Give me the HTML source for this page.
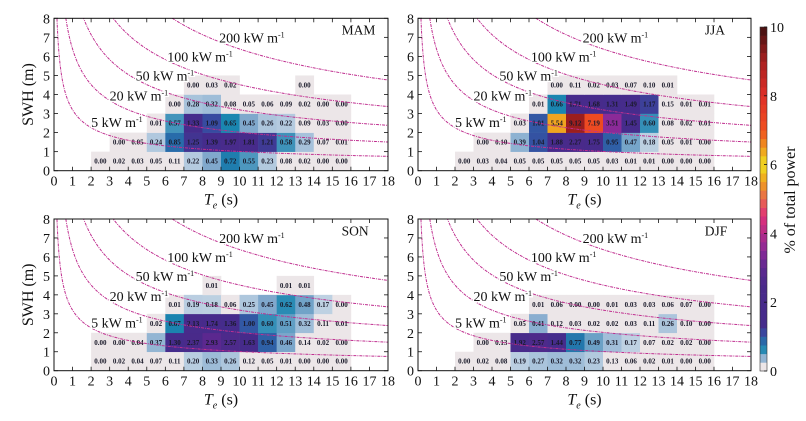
<!DOCTYPE html>
<html><head><meta charset="utf-8">
<style>
html,body{margin:0;padding:0;background:#fff;}
svg, svg text{font-family:"Liberation Serif","DejaVu Serif",serif;}
</style></head>
<body>
<svg id="chart" width="806" height="416" viewBox="0 0 806 416" xmlns="http://www.w3.org/2000/svg"></svg>
<script>
// ---- data ----
const seasons = ["MAM","JJA","SON","DJF"];
const rowStarts = {
  MAM:[2,3,5,6,7],
  JJA:[2,3,5,6,7],
  SON:[2,2,5,6,8],
  DJF:[2,3,5,6,6]
};
const mamRow0 = [0.00,0.02,0.03,0.05,0.11,0.22,0.45,0.72,0.55,0.23,0.08,0.02,0.00,0.00];
const mamRow1 = [0.00,0.05,0.24,0.85,1.25,1.39,1.97,1.81,1.21,0.58,0.29,0.07,0.01];
const mamRow2 = [0.01,0.57,1.33,1.09,0.65,0.45,0.26,0.22,0.09,0.03,0.00];
const mamRow3 = [0.00,0.28,0.32,0.08,0.05,0.06,0.09,0.02,0.00,0.00];
const mamRow4 = [0.00,0.03,0.02,null,null,null,0.00];
const jjaRow0 = [0.00,0.03,0.04,0.05,0.05,0.05,0.05,0.05,0.03,0.01,0.01,0.00,0.00,0.00];
const jjaRow1 = [0.00,0.10,0.39,1.04,1.88,2.27,1.75,0.95,0.47,0.18,0.05,0.01,0.00];
const jjaRow2 = [0.03,1.01,5.54,9.12,7.19,3.51,1.45,0.60,0.08,0.02,0.01];
const jjaRow3 = [0.01,0.66,1.71,1.68,1.31,1.49,1.17,0.15,0.01,0.01];
const jjaRow4 = [0.00,0.11,0.02,0.03,0.07,0.10,0.01];
const sonRow0 = [0.00,0.02,0.04,0.07,0.11,0.20,0.33,0.26,0.12,0.05,0.01,0.00,0.00,0.00];
const sonRow1 = [0.00,0.00,0.04,0.37,1.30,2.37,2.93,2.57,1.63,0.94,0.46,0.14,0.02,0.00];
const sonRow2 = [0.02,0.67,2.13,1.74,1.36,1.00,0.60,0.51,0.32,0.11,0.01];
const sonRow3 = [0.01,0.19,0.18,0.06,0.25,0.45,0.62,0.48,0.17,0.00];
const sonRow4 = [0.01,null,null,null,0.01,0.01];
const djfRow0 = [0.00,0.02,0.08,0.19,0.27,0.32,0.32,0.23,0.13,0.06,0.02,0.01,0.00,0.00];
const djfRow1 = [0.00,0.13,1.92,2.57,1.44,0.77,0.49,0.31,0.17,0.07,0.02,0.02,0.00];
const djfRow2 = [0.05,0.41,0.12,0.03,0.02,0.02,0.03,0.11,0.26,0.10,0.00];
const djfRow3 = [0.01,0.06,0.00,0.00,0.01,0.03,0.03,0.06,0.07,0.00];
const djfRow4 = [];
const gridValues = {
  MAM:[mamRow0,mamRow1,mamRow2,mamRow3,mamRow4],
  JJA:[jjaRow0,jjaRow1,jjaRow2,jjaRow3,jjaRow4],
  SON:[sonRow0,sonRow1,sonRow2,sonRow3,sonRow4],
  DJF:[djfRow0,djfRow1,djfRow2,djfRow3,djfRow4]
};
const powerLevels = [5,20,50,100,200];
const xTicks = [0,1,2,3,4,5,6,7,8,9,10,11,12,13,14,15,16,17,18];
const yTicks = [0,1,2,3,4,5,6,7,8];
const cbTicks = [0,2,4,6,8,10];

// ---- layout ----
const NS="http://www.w3.org/2000/svg";
const FF="'Liberation Serif', 'DejaVu Serif', serif";
const svg=document.getElementById('chart');
function mk(tag,attrs,parent){const e=document.createElementNS(NS,tag);for(const k in attrs)e.setAttribute(k,attrs[k]);if(tag==='text')e.style.fontFamily=FF;(parent||svg).appendChild(e);return e;}
function tsp(parent,txt,attrs){const e=document.createElementNS(NS,'tspan');for(const k in (attrs||{}))e.setAttribute(k,attrs[k]);e.textContent=txt;parent.appendChild(e);return e;}
const panels=[
 {x0:54,x1:388,yb:170.7,yt:18.3,left:true},
 {x0:418,x1:751,yb:170.7,yt:18.3,left:false},
 {x0:54,x1:388,yb:370.7,yt:219,left:true},
 {x0:418,x1:751,yb:370.7,yt:219,left:false}
];
const stops=[[0,'#ece6e8'],[0.15,'#ece6e8'],[0.17,'#bed1e2'],[0.3,'#a4c0da'],[0.45,'#80a8cc'],[0.65,'#1a86b0'],[0.9,'#2c66a8'],[1.1,'#384aa0'],[1.3,'#452c8c'],[2.5,'#4a2a8a'],[3.0,'#5e2890'],[3.5,'#8a2a98'],[4.5,'#e0307a'],[5.5,'#f0a020'],[6,'#f0e020'],[7,'#f05020'],[8,'#e03028'],[9,'#a82020'],[10,'#401010']];
function hex(c){return [1,3,5].map(i=>parseInt(c.substr(i,2),16));}
function cmap(v){
  if(v<=0)return stops[0][1];
  for(let i=1;i<stops.length;i++){
    if(v<=stops[i][0]){const a=stops[i-1],b=stops[i];const t=(v-a[0])/(b[0]-a[0]);const ca=hex(a[1]),cb=hex(b[1]);
      return 'rgb('+ca.map((x,j)=>Math.round(x+(cb[j]-x)*t)).join(',')+')';}
  }
  return stops[stops.length-1][1];
}

seasons.forEach((s,pi)=>{
  const p=panels[pi];
  const g=mk('g',{});
  
  
  const sx=t=>p.x0+(p.x1-p.x0)*t/18;
  const sy=h=>p.yb-(p.yb-p.yt)*h/8;
  const clipId='clip'+pi;
  const cp=mk('clipPath',{id:clipId},g);mk('rect',{x:p.x0,y:p.yt,width:p.x1-p.x0,height:p.yb-p.yt},cp);
  const cells=mk('g',{},g);
  gridValues[s].forEach((row,ri)=>{
    row.forEach((v,ci)=>{
      if(v===null)return;
      const t=rowStarts[s][ri]+ci;
      const r=mk('rect',{x:sx(t),y:sy(ri+1),width:sx(t+1)-sx(t)+0.3,height:sy(ri)-sy(ri+1)+0.3,fill:cmap(v)},cells);
      
      
    });
  });
  gridValues[s].forEach((row,ri)=>{
    row.forEach((v,ci)=>{
      if(v===null)return;
      const t=rowStarts[s][ri]+ci;
      const tx=mk('text',{x:(sx(t)+sx(t+1))/2,y:(sy(ri)+sy(ri+1))/2+2.5,'text-anchor':'middle','font-size':'7','font-weight':'bold',fill:'#1a1a2a'},cells);
      tx.textContent=v.toFixed(2);
      
      
    });
  });
  const cg=mk('g',{'clip-path':'url(#'+clipId+')'},g);
  powerLevels.forEach(P=>{
    let d='';
    for(let i=0;i<=400;i++){
      const tt=Math.pow(i/400,2)*18+0.02;
      const h=Math.sqrt(P/(0.49*tt));
      if(h>9)continue;
      d+=(d?'L':'M')+sx(tt).toFixed(2)+','+sy(h).toFixed(2);
    }
    const path=mk('path',{d:d,fill:'none',stroke:'#c03090','stroke-width':'1','stroke-dasharray':'3 1 1 1'},cg);
    
    
  });
  const lab=[[5,2.0,2.55],[20,3.0,3.95],[50,4.4,5.0],[100,6.1,6.0],[200,8.9,7.0]];
  lab.forEach(([P,t,h])=>{
    const tx=mk('text',{x:sx(t),y:sy(h)+5,'font-size':'14',fill:'#111',stroke:'#fff','stroke-width':'3','paint-order':'stroke'},g);
    tsp(tx,P+' kW m');
    tsp(tx,'-1',{dy:'-5','font-size':'8'});
    
    
  });
  mk('rect',{x:p.x0,y:p.yt,width:p.x1-p.x0,height:p.yb-p.yt,fill:'none',stroke:'#111','stroke-width':'1'},g);
  xTicks.forEach(t=>{
    mk('line',{x1:sx(t),x2:sx(t),y1:p.yb,y2:p.yb-4,stroke:'#111','stroke-width':'0.8'},g);
    mk('line',{x1:sx(t),x2:sx(t),y1:p.yt,y2:p.yt+4,stroke:'#111','stroke-width':'0.8'},g);
    const tl=mk('text',{x:sx(t),y:p.yb+15,'text-anchor':'middle','font-size':'14',fill:'#111'},g);
    tl.textContent=t;
    
    
  });
  yTicks.forEach(h=>{
    mk('line',{x1:p.x0,x2:p.x0+4,y1:sy(h),y2:sy(h),stroke:'#111','stroke-width':'0.8'},g);
    mk('line',{x1:p.x1,x2:p.x1-4,y1:sy(h),y2:sy(h),stroke:'#111','stroke-width':'0.8'},g);
    const tl=mk('text',{x:p.x0-4,y:sy(h)+5,'text-anchor':'end','font-size':'14',fill:'#111'},g);
    tl.textContent=h;
    
    
  });
  const st=mk('text',{x:sx(15.5),y:sy(7.4)+5,'font-size':'13.5',fill:'#111'},g);
  st.textContent=s;
  
  
  const xt=mk('text',{x:(p.x0+p.x1)/2,y:p.yb+34,'text-anchor':'middle','font-size':'16',fill:'#111'},g);
  tsp(xt,'T',{'font-style':'italic'});
  tsp(xt,'e',{'font-style':'italic','font-size':'10',dy:'4'});
  tsp(xt,' (s)',{dy:'-4'});
  
  
  if(p.left){
    const cy=(p.yt+p.yb)/2;
    const yt=mk('text',{x:33,y:cy,'text-anchor':'middle','font-size':'16',fill:'#111',transform:'rotate(-90 33 '+cy+')'},g);
    yt.textContent='SWH (m)';
    
    
  }
});

const cb=mk('g',{});


const cbTop=27,cbBot=371,cbX=760,cbW=7;
const cy=v=>cbBot-(cbBot-cbTop)*v/10;
for(let i=0;i<40;i++){
  const v0=i*0.25;
  mk('rect',{x:cbX,y:cy(v0+0.25),width:cbW,height:cy(v0)-cy(v0+0.25)+0.3,fill:cmap(v0+0.125)},cb);
}
mk('rect',{x:cbX,y:cbTop,width:cbW,height:cbBot-cbTop,fill:'none',stroke:'#333','stroke-width':'0.6'},cb);
cbTicks.forEach(v=>{
  mk('line',{x1:cbX+cbW-3,x2:cbX+cbW,y1:cy(v),y2:cy(v),stroke:'#111','stroke-width':'0.8'},cb);
  const t=mk('text',{x:cbX+cbW+3,y:cy(v)+5,'font-size':'14',fill:'#111'},cb);
  t.textContent=v;
  
  
});
const cbt=mk('text',{x:795,y:200,'text-anchor':'middle','font-size':'16',fill:'#111',transform:'rotate(-90 795 200)'},cb);
cbt.textContent='% of total power';


</script>
</body></html>
